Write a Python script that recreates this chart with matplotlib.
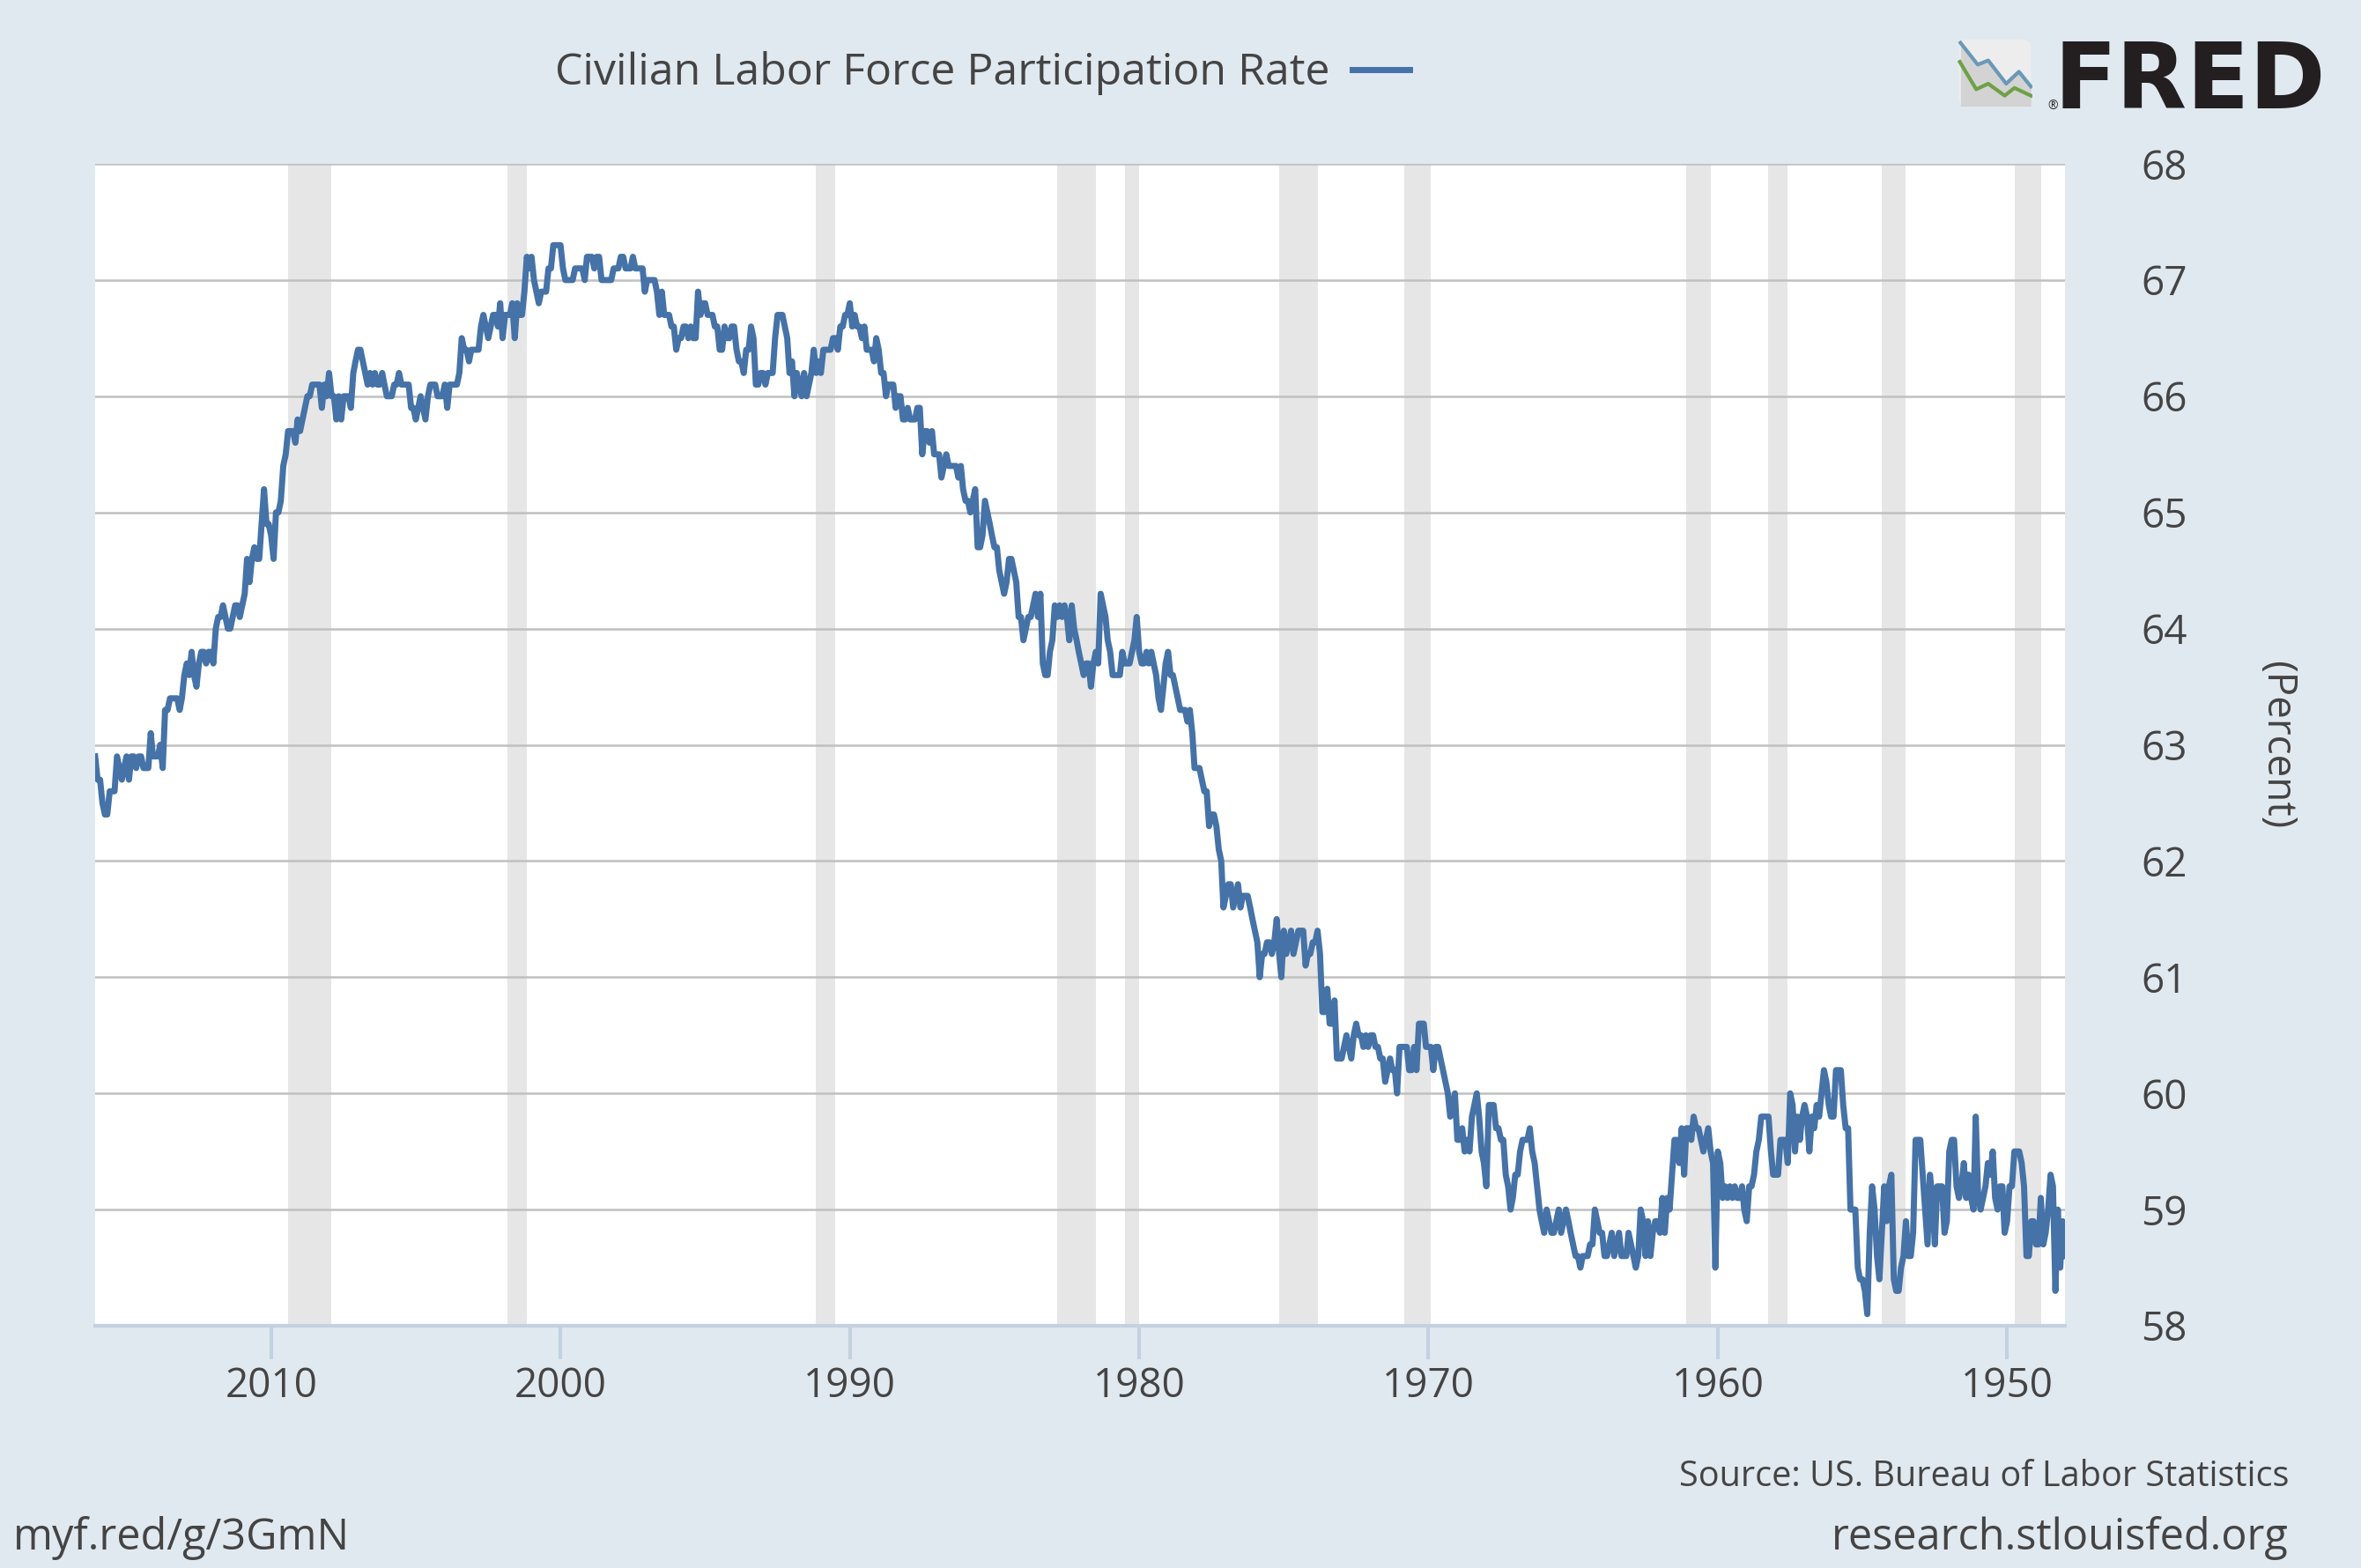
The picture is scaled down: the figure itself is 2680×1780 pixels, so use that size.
import numpy as np
import matplotlib
matplotlib.use('Agg')
from matplotlib import pyplot as plt
from matplotlib.patches import FancyBboxPatch

plt.rcParams['font.family'] = ['Open Sans', 'DejaVu Sans']

#%% DATOS (tasa de participacion mensual, %)

lfpr_1948_1959 = [
    58.6, 58.9, 58.5, 59.0, 58.3, 59.2, 59.3, 59.0, 58.8, 58.7, 59.1, 58.7,
    58.7, 58.9, 58.9, 58.6, 58.6, 59.2, 59.4, 59.5, 59.5, 59.5, 59.2, 59.2,
    58.9, 58.8, 59.2, 59.2, 59.0, 59.1, 59.5, 59.3, 59.4, 59.2, 59.1, 59.0,
    59.1, 59.8, 59.0, 59.1, 59.3, 59.1, 59.4, 59.2, 59.1, 59.2, 59.6, 59.6,
    59.5, 58.9, 58.8, 59.2, 59.2, 59.2, 58.7, 59.1, 59.3, 58.7, 59.0, 59.3,
    59.6, 59.6, 59.6, 58.8, 58.6, 58.6, 58.9, 58.6, 58.5, 58.3, 58.3, 58.4,
    59.3, 59.2, 58.9, 59.2, 58.8, 58.4, 58.6, 59.0, 59.2, 58.8, 58.1, 58.3,
    58.4, 58.4, 58.5, 59.0, 59.0, 59.0, 59.7, 59.7, 59.9, 60.2, 60.2, 60.2,
    59.8, 59.8, 59.9, 60.1, 60.2, 60.0, 59.8, 59.9, 59.7, 59.8, 59.5, 59.8,
    59.9, 59.8, 59.6, 59.8, 59.5, 59.9, 60.0, 59.4, 59.6, 59.6, 59.6, 59.3,
    59.3, 59.3, 59.5, 59.8, 59.8, 59.8, 59.8, 59.6, 59.5, 59.3, 59.2, 59.2,
    58.9, 59.0, 59.2, 59.1, 59.1, 59.2, 59.1, 59.2, 59.1, 59.2, 59.1, 59.4]

lfpr_1960s = [
    59.5, 58.5, 59.4, 59.5, 59.7, 59.6, 59.5, 59.6, 59.7, 59.7, 59.8, 59.6,
    59.7, 59.7, 59.3, 59.7, 59.4, 59.6, 59.6, 59.3, 59.0, 59.1, 58.8, 59.1,
    58.8, 58.9, 58.9, 58.8, 58.6, 58.9, 58.6, 58.9, 59.0, 58.6, 58.5, 58.6,
    58.7, 58.8, 58.6, 58.6, 58.6, 58.8, 58.7, 58.6, 58.8, 58.7, 58.6, 58.6,
    58.8, 58.8, 58.9, 59.0, 58.7, 58.7, 58.6, 58.6, 58.6, 58.5, 58.6, 58.6,
    58.7, 58.8, 58.9, 59.0, 58.9, 58.8, 59.0, 58.9, 58.8, 58.8, 58.9, 59.0,
    58.8, 58.9, 59.0, 59.2, 59.4, 59.5, 59.7, 59.6, 59.6, 59.6, 59.5, 59.3,
    59.3, 59.1, 59.0, 59.2, 59.3, 59.6, 59.6, 59.7, 59.7, 59.9, 59.9, 59.9,
    59.2, 59.4, 59.5, 59.8, 60.0, 59.9, 59.8, 59.5, 59.6, 59.5, 59.7, 59.6,
    59.6, 60.0, 59.9, 59.8, 60.0, 60.1, 60.2, 60.3, 60.4, 60.4, 60.2, 60.4]

lfpr_1970s = [
    60.4, 60.4, 60.6, 60.6, 60.6, 60.2, 60.4, 60.2, 60.2, 60.4, 60.4, 60.4,
    60.4, 60.0, 60.2, 60.2, 60.3, 60.2, 60.1, 60.3, 60.3, 60.4, 60.4, 60.5,
    60.5, 60.4, 60.5, 60.4, 60.5, 60.5, 60.6, 60.5, 60.3, 60.4, 60.5, 60.4,
    60.3, 60.3, 60.3, 60.8, 60.6, 60.6, 60.9, 60.7, 60.7, 61.2, 61.4, 61.3,
    61.3, 61.2, 61.2, 61.1, 61.4, 61.4, 61.4, 61.3, 61.2, 61.4, 61.3, 61.2,
    61.4, 61.0, 61.2, 61.5, 61.3, 61.2, 61.3, 61.3, 61.2, 61.2, 61.0, 61.3,
    61.4, 61.5, 61.6, 61.7, 61.7, 61.7, 61.6, 61.8, 61.7, 61.6, 61.8, 61.8,
    61.7, 61.6, 62.0, 62.1, 62.3, 62.4, 62.4, 62.3, 62.6, 62.6, 62.7, 62.8,
    62.8, 62.8, 63.1, 63.3, 63.2, 63.3, 63.3, 63.3, 63.4, 63.5, 63.6, 63.6,
    63.8, 63.7, 63.5, 63.3, 63.4, 63.6, 63.7, 63.8, 63.7, 63.8, 63.7, 63.7]

lfpr_1980s = [
    63.8, 64.1, 63.9, 63.8, 63.7, 63.7, 63.7, 63.8, 63.6, 63.6, 63.6, 63.6,
    63.8, 63.9, 64.1, 64.2, 64.3, 63.7, 63.8, 63.7, 63.5, 63.7, 63.7, 63.6,
    63.7, 63.8, 63.9, 64.0, 64.2, 63.9, 64.1, 64.2, 64.1, 64.2, 64.1, 64.2,
    63.9, 63.8, 63.6, 63.6, 63.7, 64.3, 64.1, 64.3, 64.2, 64.1, 64.1, 64.0,
    63.9, 64.1, 64.1, 64.4, 64.5, 64.6, 64.6, 64.4, 64.3, 64.4, 64.5, 64.7,
    64.7, 64.8, 64.9, 65.0, 65.1, 64.8, 64.7, 64.7, 65.2, 65.1, 65.0, 65.1,
    65.1, 65.2, 65.4, 65.3, 65.4, 65.4, 65.4, 65.4, 65.5, 65.4, 65.3, 65.5,
    65.5, 65.5, 65.7, 65.6, 65.7, 65.7, 65.5, 65.9, 65.9, 65.8, 65.8, 65.8,
    65.9, 65.8, 65.8, 66.0, 66.0, 65.9, 66.1, 66.1, 66.1, 66.0, 66.2, 66.2,
    66.4, 66.5, 66.3, 66.4, 66.4, 66.4, 66.6, 66.5, 66.6, 66.6, 66.7, 66.6]

lfpr_1990s = [
    66.8, 66.7, 66.7, 66.6, 66.6, 66.4, 66.5, 66.5, 66.4, 66.4, 66.4, 66.4,
    66.2, 66.3, 66.2, 66.4, 66.2, 66.1, 66.0, 66.2, 66.0, 66.1, 66.2, 66.0,
    66.3, 66.2, 66.5, 66.6, 66.7, 66.7, 66.7, 66.5, 66.2, 66.2, 66.2, 66.1,
    66.2, 66.2, 66.1, 66.1, 66.5, 66.6, 66.4, 66.4, 66.2, 66.3, 66.3, 66.4,
    66.6, 66.6, 66.5, 66.5, 66.6, 66.4, 66.4, 66.6, 66.6, 66.7, 66.7, 66.7,
    66.8, 66.8, 66.7, 66.9, 66.5, 66.5, 66.6, 66.5, 66.6, 66.6, 66.5, 66.5,
    66.4, 66.6, 66.6, 66.7, 66.7, 66.7, 66.9, 66.7, 66.9, 67.0, 67.0, 67.0,
    67.0, 66.9, 67.1, 67.1, 67.1, 67.1, 67.2, 67.1, 67.1, 67.1, 67.2, 67.2,
    67.1, 67.1, 67.1, 67.0, 67.0, 67.0, 67.0, 67.0, 67.2, 67.2, 67.1, 67.2,
    67.2, 67.2, 67.0, 67.1, 67.1, 67.1, 67.1, 67.0, 67.0, 67.0, 67.0, 67.1]

lfpr_2000s = [
    67.3, 67.3, 67.3, 67.3, 67.1, 67.1, 66.9, 66.9, 66.9, 66.8, 66.9, 67.0,
    67.2, 67.1, 67.2, 66.9, 66.7, 66.7, 66.8, 66.5, 66.8, 66.7, 66.7, 66.7,
    66.5, 66.8, 66.6, 66.7, 66.7, 66.6, 66.5, 66.6, 66.7, 66.6, 66.4, 66.4,
    66.4, 66.4, 66.3, 66.4, 66.4, 66.5, 66.2, 66.1, 66.1, 66.1, 66.1, 65.9,
    66.1, 66.0, 66.0, 66.0, 66.1, 66.1, 66.1, 66.0, 65.8, 65.9, 66.0, 65.9,
    65.8, 65.9, 65.9, 66.1, 66.1, 66.1, 66.1, 66.2, 66.1, 66.1, 66.0, 66.0,
    66.0, 66.1, 66.2, 66.1, 66.1, 66.2, 66.1, 66.2, 66.1, 66.2, 66.3, 66.4,
    66.4, 66.3, 66.2, 65.9, 66.0, 66.0, 66.0, 65.8, 66.0, 65.8, 66.0, 66.0,
    66.2, 66.0, 66.1, 65.9, 66.1, 66.1, 66.1, 66.1, 66.0, 66.0, 65.9, 65.8,
    65.7, 65.8, 65.6, 65.7, 65.7, 65.7, 65.5, 65.4, 65.1, 65.0, 65.0, 64.6]

lfpr_2010s = [
    64.8, 64.9, 64.9, 65.2, 64.9, 64.6, 64.6, 64.7, 64.6, 64.4, 64.6, 64.3,
    64.2, 64.1, 64.2, 64.2, 64.1, 64.0, 64.0, 64.1, 64.2, 64.1, 64.1, 64.0,
    63.7, 63.8, 63.8, 63.7, 63.8, 63.8, 63.7, 63.5, 63.6, 63.8, 63.6, 63.7,
    63.6, 63.4, 63.3, 63.4, 63.4, 63.4, 63.4, 63.3, 63.3, 62.8, 63.0, 62.9,
    62.9, 62.9, 63.1, 62.8, 62.8, 62.8, 62.9, 62.9, 62.8, 62.9, 62.9, 62.7,
    62.9, 62.8, 62.7, 62.8, 62.9, 62.6, 62.6, 62.6, 62.4, 62.4, 62.5, 62.7,
    62.7, 62.9]

lfpr = np.array(lfpr_1948_1959 + lfpr_1960s + lfpr_1970s + lfpr_1980s
                + lfpr_1990s + lfpr_2000s + lfpr_2010s)
fechas = np.arange('1948-01', '2016-03', dtype='datetime64[M]').astype('datetime64[D]')

# recesiones NBER
rec_ini = ['1948-11-01', '1953-07-01', '1957-08-01', '1960-04-01', '1969-12-01',
           '1973-11-01', '1980-01-01', '1981-07-01', '1990-07-01', '2001-03-01',
           '2007-12-01']
rec_fin = ['1949-10-01', '1954-05-01', '1958-04-01', '1961-02-01', '1970-11-01',
           '1975-03-01', '1980-07-01', '1982-11-01', '1991-03-01', '2001-11-01',
           '2009-06-01']

anios_ticks = [1950, 1960, 1970, 1980, 1990, 2000, 2010]
y_ticks = list(range(58, 69))

#%% FIGURA

W, H = 2680, 1780
fondo = '#E1E9F0'
gris_txt = '#444444'
azul = '#4572A7'

fig = plt.figure(figsize=(W/100, H/100), dpi=100, facecolor=fondo)
ax = fig.add_axes([108/W, 1-1505/H, (2344-108)/W, (1505-186)/H])
ax.set_facecolor('white')

for a, b in zip(rec_ini, rec_fin):
    ax.axvspan(np.datetime64(a), np.datetime64(b), color='#E6E6E6', lw=0, zorder=1)

ax.plot(fechas, lfpr, color=azul, linewidth=5, zorder=3,
        label='Civilian Labor Force Participation Rate')

ax.set_xlim(fechas[-1], fechas[0])
ax.set_ylim(58, 68)
ax.set_yticks(y_ticks)
ax.set_xticks([np.datetime64('%d-01-01' % a) for a in anios_ticks])
ax.set_xticklabels([str(a) for a in anios_ticks])

ax.yaxis.tick_right()
ax.grid(axis='y', color='#C0C0C0', linewidth=1.8)
ax.grid(axis='x', visible=False)
for s in ['top', 'left', 'right']:
    ax.spines[s].set_visible(False)
ax.spines['bottom'].set_color('#C3D1E0')
ax.spines['bottom'].set_linewidth(3)
ax.spines['bottom'].set_zorder(4)

ax.tick_params(axis='y', length=0, pad=62, labelsize=33, labelcolor=gris_txt)
ax.tick_params(axis='x', length=27, width=3, color='#C3D1E0', pad=6,
               labelsize=33, labelcolor=gris_txt)

fig.text(2584/W, 1-846/H, '(Percent)', rotation=270, ha='center', va='center',
         fontsize=33, color=gris_txt)

# leyenda (linea a la derecha del texto)
ax.legend(loc='center right', bbox_to_anchor=(1600/W, 1-83/H),
          bbox_transform=fig.transFigure, frameon=False, markerfirst=False,
          fontsize=36, handlelength=1.3, handletextpad=0.5, borderaxespad=0,
          borderpad=0, labelcolor=gris_txt)

# logo FRED
fig.text(2640/W, 1-123/H, 'FRED', ha='right', va='baseline', fontsize=75,
         fontweight='bold', family='DejaVu Sans', color='#231F20')
fig.text(2330/W, 1-124/H, '®', ha='center', va='baseline', fontsize=10,
         color='#231F20')

logo = fig.add_axes([2222/W, 1-123/H, 85/W, 80/H])
logo.set_xlim(0, 1)
logo.set_ylim(0, 1)
logo.axis('off')
logo.add_patch(FancyBboxPatch((0.02, 0.02), 0.96, 0.96,
                              boxstyle='round,pad=0,rounding_size=0.12',
                              fc='#EDEDED', ec='none'))
lx_az = [0.04, 0.27, 0.41, 0.65, 0.82, 0.98]
ly_az = [0.93, 0.62, 0.68, 0.35, 0.52, 0.31]
lx_vd = [0.03, 0.25, 0.41, 0.63, 0.76, 0.98]
ly_vd = [0.66, 0.27, 0.35, 0.18, 0.29, 0.18]
logo.fill_between(lx_az, ly_az, 0.03, color='#D3D3D3', lw=0)
logo.plot(lx_az, ly_az, color='#6A98B8', lw=3)
logo.plot(lx_vd, ly_vd, color='#6FA048', lw=3)

# pie
fig.text(2598/W, 1-1687/H, 'Source: US. Bureau of Labor Statistics', ha='right',
         va='baseline', fontsize=28.5, color=gris_txt)
fig.text(2598/W, 1-1759/H, 'research.stlouisfed.org', ha='right',
         va='baseline', fontsize=35, color=gris_txt)
fig.text(397/W, 1-1759/H, 'myf.red/g/3GmN', ha='right',
         va='baseline', fontsize=35, color=gris_txt)

plt.savefig('out.png', dpi=100, facecolor=fondo)
